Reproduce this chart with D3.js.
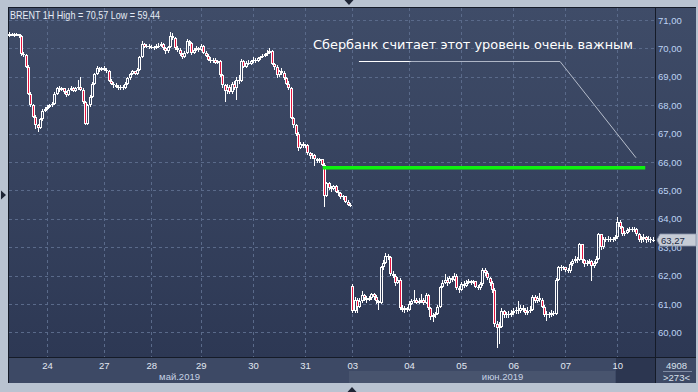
<!DOCTYPE html>
<html>
<head>
<meta charset="utf-8">
<script src="https://cdn.jsdelivr.net/npm/d3@7"></script>
<style>
  html, body { margin: 0; padding: 0; background: #b9c3d1; }
  svg { display: block; font-family: "Liberation Sans", Arial, sans-serif; }
</style>
</head>
<body>
<svg id="chart" width="698" height="392"></svg>
<script>
// ---- Data: hourly BRENT bars, one array per trading day, each bar = [high, low, close] ----
const dayLabels = ["23", "24", "27", "28", "29", "30", "31", "03", "04", "05", "06", "07", "10"];
const monthLabels = ["май.2019", "июн.2019"];
const monthOfDay = [0, 0, 0, 0, 0, 0, 0, 1, 1, 1, 1, 1, 1];
// opens where the session gaps from the previous close
const sessionOpens = { "23": 70.50, "03": 61.65 };

const may23 = [[70.58,70.40,70.45],[70.55,70.42,70.52],[70.55,70.40,70.45],[70.55,70.43,70.50],[70.52,70.38,70.45],
  [70.48,69.72,69.80],[69.88,69.70,69.78],[69.82,69.30,69.35],[69.40,68.35,68.40],[68.45,67.95,68.00],
  [68.05,67.55,67.60],[67.65,67.15,67.30],[67.35,67.05,67.20],[67.55,67.15,67.50],[67.85,67.45,67.80],[67.95,67.75,67.85]];
const may24 = [[68.00,67.82,67.95],[68.05,67.90,68.00],[68.10,67.95,68.05],[68.45,68.00,68.40],[68.65,68.35,68.60],
  [68.68,68.48,68.55],[68.65,68.50,68.60],[68.62,68.40,68.45],[68.50,68.30,68.35],[68.60,68.32,68.55],
  [68.68,68.50,68.60],[68.65,68.45,68.50],[68.65,68.45,68.60],[68.90,68.55,68.65],[69.00,68.50,68.55],
  [68.60,68.05,68.10],[68.15,67.30,67.35],[68.05,67.30,68.00],[68.35,67.95,68.30],[68.80,68.25,68.75],
  [69.15,68.70,69.10],[69.38,69.05,69.30],[69.35,69.18,69.25],[69.35,69.20,69.30]];
const may27 = [[69.38,69.20,69.25],[69.30,69.12,69.20],[69.25,68.80,68.85],[68.92,68.70,68.75],[68.80,68.62,68.70],
  [68.78,68.60,68.65],[68.70,68.55,68.60],[68.72,68.55,68.65],[68.70,68.55,68.60],[68.80,68.58,68.75],
  [69.00,68.70,68.95],[69.15,68.90,69.10],[69.25,69.05,69.20],[69.22,69.05,69.10],[69.30,69.08,69.25],
  [69.75,69.20,69.70],[70.25,69.65,70.15],[70.20,70.00,70.05],[70.15,70.00,70.10],[70.15,69.98,70.05]];
const may28 = [[70.12,69.98,70.05],[70.10,69.95,70.00],[70.15,69.98,70.10],[70.18,70.02,70.10],[70.22,70.05,70.15],
  [70.18,69.95,70.00],[70.05,69.80,69.90],[70.10,69.85,70.05],[70.57,70.00,70.45],[70.55,70.28,70.35],
  [70.40,69.95,70.00],[70.10,69.88,69.95],[70.00,69.72,69.80],[69.85,69.62,69.70],[69.90,69.65,69.85],
  [70.32,69.80,70.25],[70.30,70.10,70.20],[70.22,69.78,69.85],[70.00,69.80,69.95],[70.08,69.90,70.00],[70.05,69.88,69.95]];
const may29 = [[70.15,69.90,70.10],[70.12,69.80,69.85],[69.90,69.70,69.75],[69.80,69.55,69.60],[69.68,69.50,69.55],
  [69.65,69.48,69.60],[69.65,69.45,69.50],[69.60,69.45,69.55],[69.58,69.00,69.05],[69.10,68.60,68.70],
  [68.75,68.10,68.50],[68.75,68.40,68.65],[68.70,68.40,68.45],[68.80,68.40,68.75],[68.85,68.55,68.60],
  [69.00,68.20,68.90],[69.05,68.75,68.85],[69.62,68.80,69.55],[69.60,69.30,69.35],[69.55,69.30,69.50],
  [69.58,69.40,69.45],[69.60,69.40,69.55]];
const may30 = [[69.68,69.50,69.60],[69.65,69.50,69.55],[69.70,69.52,69.65],[69.75,69.60,69.70],[69.82,69.65,69.75],
  [69.85,69.70,69.80],[69.95,69.75,69.85],[70.00,69.80,69.90],[69.95,69.40,69.45],[69.50,69.25,69.35],
  [69.40,68.95,69.05],[69.25,69.00,69.20],[69.30,69.05,69.15],[69.20,68.90,68.95],[69.00,68.70,68.75],
  [68.85,68.55,68.60],[68.65,67.50,67.55],[67.60,67.20,67.30],[67.35,66.90,67.00],[67.05,66.40,66.50],
  [66.70,66.45,66.65],[66.70,66.50,66.55]];
const may31 = [[66.65,66.48,66.60],[66.62,66.25,66.30],[66.35,66.10,66.20],[66.30,66.12,66.25],[66.28,65.85,66.10],
  [66.15,65.95,66.05],[66.15,65.98,66.10],[66.12,65.85,65.90],[65.95,64.40,64.80],[65.30,64.75,65.25],
  [65.28,65.02,65.10],[65.15,64.95,65.05],[65.20,65.00,65.15],[65.18,64.90,64.95],[65.00,64.82,64.90],
  [64.95,64.70,64.75],[64.85,64.65,64.80],[64.82,64.55,64.60],[64.65,64.45,64.50],[64.55,64.40,64.45]];
const jun03 = [[61.70,60.70,60.75],[61.25,60.70,61.15],[61.20,60.70,60.90],[61.20,60.85,61.10],[61.45,61.05,61.30],
  [61.35,61.10,61.20],[61.28,61.05,61.15],[61.28,61.10,61.20],[61.40,61.15,61.35],[61.38,61.15,61.25],
  [61.30,61.00,61.10],[61.15,60.80,61.05],[62.35,61.00,62.30],[62.55,62.20,62.45],[62.80,62.40,62.70],
  [62.75,62.55,62.65],[62.70,62.00,62.05],[62.15,61.90,62.00],[62.05,61.65,61.75],[61.95,61.70,61.85],
  [61.90,60.80,60.85],[60.95,60.72,60.80],[60.92,60.70,60.85],[60.90,60.72,60.80]];
const jun04 = [[61.10,60.75,61.00],[61.18,60.95,61.10],[61.50,61.05,61.15],[61.20,61.00,61.05],[61.20,61.00,61.10],
  [61.35,61.05,61.15],[61.20,60.98,61.05],[61.40,61.00,61.30],[61.35,60.80,60.85],[60.90,60.45,60.55],
  [60.70,60.35,60.60],[60.72,60.50,60.65],[60.98,60.60,60.90],[61.65,60.85,61.60],[61.85,61.55,61.75],
  [62.05,61.70,61.85],[61.95,61.65,61.75],[62.00,61.70,61.90],[62.00,61.78,61.85],[62.08,61.82,62.00],
  [62.05,61.50,61.55],[61.65,61.40,61.50]];
const jun05 = [[61.78,61.45,61.70],[61.80,61.55,61.65],[61.85,61.60,61.75],[61.88,61.70,61.80],[61.85,61.68,61.75],
  [61.85,61.70,61.80],[61.82,61.55,61.60],[61.68,61.48,61.55],[61.78,61.50,61.70],[62.25,61.65,62.20],
  [62.25,62.00,62.10],[62.15,61.85,61.90],[61.95,61.65,61.75],[61.80,61.40,61.50],[61.55,60.20,60.30],
  [60.40,59.44,60.15],[60.35,59.60,60.20],[60.85,60.15,60.75],[60.80,60.50,60.60],[60.72,60.52,60.65],
  [60.75,60.50,60.60],[60.78,60.55,60.70]];
const jun06 = [[60.85,60.62,60.75],[60.90,60.65,60.80],[61.10,60.65,60.75],[60.95,60.70,60.85],[60.95,60.72,60.80],
  [60.85,60.60,60.70],[60.88,60.62,60.75],[60.92,60.70,60.80],[61.30,60.75,61.25],[61.30,61.05,61.10],
  [61.28,61.05,61.20],[61.40,61.08,61.15],[61.20,60.85,60.90],[60.95,60.55,60.60],[60.75,60.40,60.65],
  [60.72,60.52,60.60],[60.78,60.55,60.70],[60.75,60.58,60.65],[61.90,60.60,61.85],[62.35,61.80,62.30],
  [62.38,62.15,62.25],[62.35,62.18,62.30]];
const jun07 = [[62.32,62.12,62.20],[62.25,62.08,62.15],[62.48,62.10,62.40],[62.58,62.35,62.50],[62.68,62.45,62.60],
  [62.65,62.45,62.55],[63.15,62.50,63.10],[63.12,62.45,62.55],[62.60,62.30,62.40],[62.55,62.35,62.45],
  [62.60,62.40,62.50],[62.55,61.80,62.35],[62.52,62.25,62.45],[62.70,62.40,62.60],[63.50,62.55,63.45],
  [63.48,62.90,63.00],[63.35,62.95,63.30],[63.35,63.20,63.25],[63.38,63.20,63.30],[63.35,63.18,63.25],
  [63.35,63.20,63.30],[63.42,63.22,63.35]];
const jun10 = [[64.05,63.30,63.90],[63.95,63.65,63.70],[63.75,63.40,63.45],[63.58,63.38,63.50],[63.68,63.45,63.60],
  [63.72,63.55,63.65],[63.70,63.52,63.60],[63.72,63.55,63.65],[63.68,63.40,63.45],[63.50,63.18,63.25],
  [63.40,63.15,63.30],[63.45,63.20,63.35],[63.40,63.15,63.25],[63.38,63.20,63.30],[63.35,63.15,63.25],[63.35,63.18,63.27]];

const priceTicks = d3.range(60, 72);
const levelPrice = 65.8;
const noteText = "Сбербанк считает этот уровень очень важным";
const headerText = "BRENT 1H High = 70,57 Low = 59,44";
const barsTotal = 4908;

// ---- Build candles ----
const days = [may23, may24, may27, may28, may29, may30, may31, jun03, jun04, jun05, jun06, jun07, jun10];
const candles = [];
const dayStarts = [];
let prev = null;
days.forEach((rows, d) => {
  dayStarts.push(candles.length);
  rows.forEach((r, j) => {
    const [h, l, c] = r;
    const o = (j === 0 && sessionOpens[dayLabels[d]] !== undefined) ? sessionOpens[dayLabels[d]] : prev;
    candles.push({ i: candles.length, o, h, l, c });
    prev = c;
  });
});
const N = candles.length;

// ---- Layout ----
const W = 698, H = 392;
const panel = { left: 8, top: 7, right: 696, bottom: 383 };
const plotRight = 655, plotBottom = 357;

const x = d3.scaleLinear().domain([0, N]).range([8, 654]);
const y = d3.scaleLinear().domain([60, 71]).range([332.4, 20]);
const cx = i => x(i + 0.5);

const svg = d3.select("#chart");
const defs = svg.append("defs");
const bg = defs.append("linearGradient").attr("id", "bg").attr("x1", 0).attr("x2", 0).attr("y1", 0).attr("y2", 1);
bg.append("stop").attr("offset", "0%").attr("stop-color", "#3f4c68");
bg.append("stop").attr("offset", "100%").attr("stop-color", "#2d3854");

// frame arrows
svg.append("path").attr("d", "M344.5,0 L353.5,0 L349,5 Z").attr("fill", "#1e2535");
svg.append("path").attr("d", "M347.5,392 L356.5,392 L352,387 Z").attr("fill", "#1e2535");
svg.append("path").attr("d", "M1,190.5 L1,199.5 L6,195 Z").attr("fill", "#1e2535");

// panel background
svg.append("rect").attr("x", panel.left).attr("y", panel.top)
  .attr("width", panel.right - panel.left).attr("height", plotBottom - panel.top)
  .attr("fill", "url(#bg)");
// bottom axis strip
svg.append("rect").attr("x", panel.left).attr("y", plotBottom)
  .attr("width", panel.right - panel.left).attr("height", panel.bottom - plotBottom)
  .attr("fill", "#3d4965");
// june month band (lighter lower strip)
const juneStart = dayStarts[7];
svg.append("rect").attr("x", Math.round(x(juneStart)) - 2).attr("y", 371)
  .attr("width", Math.round(x(dayStarts[12])) - Math.round(x(juneStart)) + 1).attr("height", panel.bottom - 371)
  .attr("fill", "#48546e");
// current day block
svg.append("rect").attr("x", Math.round(x(dayStarts[12])) ).attr("y", plotBottom)
  .attr("width", plotRight - Math.round(x(dayStarts[12]))).attr("height", panel.bottom - plotBottom)
  .attr("fill", "#2c3650");

// border lines
const border = svg.append("g").attr("stroke", "#151b28").attr("shape-rendering", "crispEdges");
border.append("line").attr("x1", panel.left + 0.5).attr("x2", panel.left + 0.5).attr("y1", panel.top).attr("y2", panel.bottom);
border.append("line").attr("x1", panel.left).attr("x2", panel.right).attr("y1", panel.top + 0.5).attr("y2", panel.top + 0.5);
border.append("line").attr("x1", plotRight + 0.5).attr("x2", plotRight + 0.5).attr("y1", panel.top).attr("y2", panel.bottom);
border.append("line").attr("x1", panel.left).attr("x2", panel.right).attr("y1", plotBottom + 0.5).attr("y2", plotBottom + 0.5);

// ---- Grid ----
const grid = svg.append("g").attr("stroke", "#5a6a8a").attr("stroke-dasharray", "3,3")
  .attr("shape-rendering", "crispEdges");
priceTicks.forEach(v => {
  const yy = Math.round(y(v)) + 0.5;
  grid.append("line").attr("x1", panel.left + 1).attr("x2", plotRight).attr("y1", yy).attr("y2", yy);
});
dayStarts.slice(1).forEach(i => {
  const xx = Math.round(cx(i)) + 0.5;
  grid.append("line").attr("x1", xx).attr("x2", xx).attr("y1", panel.top + 1).attr("y2", plotBottom);
});

// ---- Header ----
svg.append("text").attr("x", 10).attr("y", 19)
  .attr("fill", "#e6ecf6").attr("font-size", 10.5)
  .attr("textLength", 150).attr("lengthAdjust", "spacingAndGlyphs")
  .text(headerText);

// ---- Candles ----
const RED = "#e5143f";
const cg = svg.append("g").attr("shape-rendering", "crispEdges");
candles.forEach(d => {
  const px = Math.round(cx(d.i));
  let yt = Math.round(y(Math.max(d.o, d.c)));
  let yb = Math.round(y(Math.min(d.o, d.c)));
  if (yb - yt < 1) yb = yt + 1;
  const yh = Math.round(y(d.h)), yl = Math.round(y(d.l));
  if (yh < yt) cg.append("line").attr("x1", px + 0.5).attr("x2", px + 0.5).attr("y1", yh).attr("y2", yt).attr("stroke", "#ffffff");
  if (yl > yb) cg.append("line").attr("x1", px + 0.5).attr("x2", px + 0.5).attr("y1", yb).attr("y2", yl).attr("stroke", "#ffffff");
  cg.append("rect")
    .attr("x", px - 0.5).attr("y", yt + 0.5)
    .attr("width", 2).attr("height", yb - yt - 1 > 0 ? yb - yt - 1 : 0.01)
    .attr("fill", d.c < d.o ? RED : "none")
    .attr("stroke", "#ffffff").attr("stroke-width", 1);
});

// ---- Level line ----
svg.append("line")
  .attr("x1", x(133)).attr("x2", x(269.3))
  .attr("y1", y(levelPrice)).attr("y2", y(levelPrice))
  .attr("stroke", "#0ef20e").attr("stroke-width", 3.5);

// ---- Annotation ----
const noteGrad = defs.append("linearGradient").attr("id", "noteGrad")
  .attr("gradientUnits", "userSpaceOnUse").attr("x1", 358).attr("x2", 640).attr("y1", 0).attr("y2", 0);
noteGrad.append("stop").attr("offset", "0%").attr("stop-color", "#ffffff");
noteGrad.append("stop").attr("offset", "18%").attr("stop-color", "#ffffff");
noteGrad.append("stop").attr("offset", "19%").attr("stop-color", "#aab2c4");
noteGrad.append("stop").attr("offset", "100%").attr("stop-color", "#b8bfcc");
const elbowY = Math.round(y(69.56)) + 0.5;
svg.append("path")
  .attr("d", `M${x(148.3)},${elbowY} L${x(233.3)},${elbowY} L${x(265.4)},${y(66.15)}`)
  .attr("fill", "none").attr("stroke", "url(#noteGrad)").attr("stroke-width", 1);
svg.append("text").attr("x", 313).attr("y", 49)
  .attr("fill", "#ffffff").attr("font-size", 12.5)
  .attr("font-family", "'DejaVu Sans', sans-serif")
  .attr("textLength", 320).attr("lengthAdjust", "spacingAndGlyphs")
  .text(noteText);

// ---- Right price axis ----
const yAxis = d3.axisRight(y).tickValues(priceTicks).tickSize(0).tickPadding(2)
  .tickFormat(v => v.toFixed(2).replace(".", ","));
svg.append("g").attr("transform", `translate(${plotRight + 1},0)`)
  .call(yAxis)
  .call(g => g.select(".domain").remove())
  .call(g => g.selectAll("text").attr("fill", "#bdd3f3").attr("font-size", 9.5)
    .attr("font-family", "'Liberation Sans', Arial, sans-serif"));

// last price tag
const last = candles[N - 1];
const ly = Math.round(y(last.c));
svg.append("path")
  .attr("d", `M${plotRight + 2},${ly} L${plotRight + 5},${ly - 6} L${panel.right},${ly - 6} L${panel.right},${ly + 6} L${plotRight + 5},${ly + 6} Z`)
  .attr("fill", "#c6ccd6").attr("stroke", "#8a96ab").attr("stroke-width", 0.8);
svg.append("text").attr("x", plotRight + 6).attr("y", ly + 3.5)
  .attr("fill", "#1c2a44").attr("font-size", 9.5)
  .text(last.c.toFixed(2).replace(".", ","));

// ---- Bottom time axis ----
const xAxis = d3.axisBottom(x).tickValues(dayStarts.slice(1).map(i => i + 0.5))
  .tickSize(0).tickPadding(4)
  .tickFormat((v, k) => dayLabels[k + 1]);
svg.append("g").attr("transform", `translate(0,${plotBottom + 1})`)
  .call(xAxis)
  .call(g => g.select(".domain").remove())
  .call(g => g.selectAll("text").attr("fill", "#e2e8f2").attr("font-size", 9.5)
    .attr("font-family", "'Liberation Sans', Arial, sans-serif"));

monthLabels.forEach((m, k) => {
  const idx = monthOfDay.map((mm, d) => mm === k ? d : -1).filter(d => d >= 0);
  const a = dayStarts[idx[0]];
  const b = idx[idx.length - 1] + 1 < dayStarts.length ? dayStarts[idx[idx.length - 1] + 1] : N;
  svg.append("text").attr("x", (x(a) + x(b)) / 2).attr("y", 380)
    .attr("text-anchor", "middle").attr("fill", "#c6d2e4").attr("font-size", 9.5)
    .text(m);
});

// bar counter box
const boxCx = (plotRight + panel.right) / 2 + 1;
svg.append("text").attr("x", boxCx).attr("y", 368.5).attr("text-anchor", "middle")
  .attr("fill", "#d8e0ec").attr("font-size", 9.5).text(barsTotal);
svg.append("line").attr("x1", plotRight + 8).attr("x2", panel.right - 4)
  .attr("y1", 371.5).attr("y2", 371.5).attr("stroke", "#7d8aa2");
svg.append("text").attr("x", boxCx).attr("y", 381).attr("text-anchor", "middle")
  .attr("fill", "#d8e0ec").attr("font-size", 9.5).text(`>${N}<`);
</script>
</body>
</html>
